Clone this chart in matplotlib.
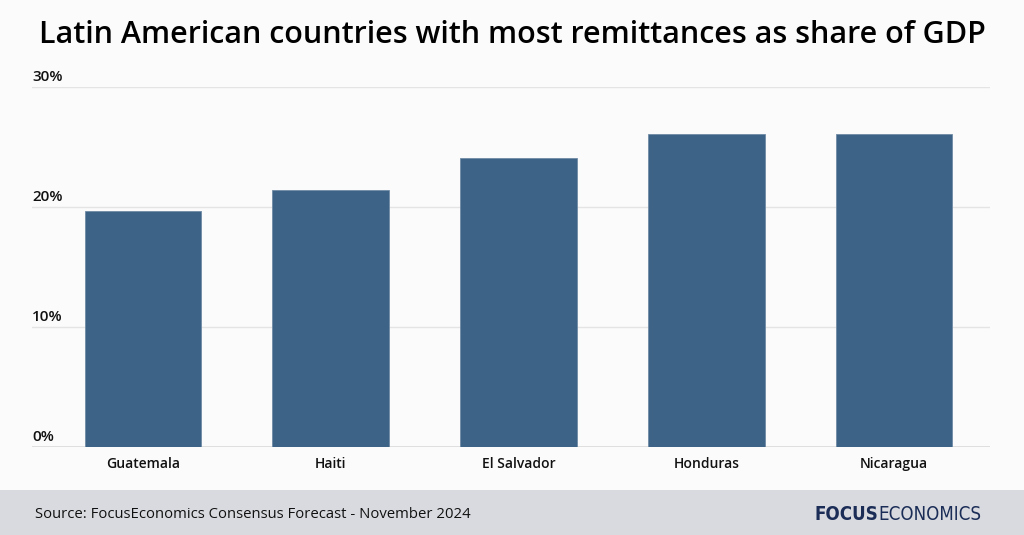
import matplotlib.pyplot as plt
import matplotlib.transforms as mtransforms
from matplotlib.patches import Rectangle

# データ
countries = ['Guatemala', 'Haiti', 'El Salvador', 'Honduras', 'Nicaragua']
remit_share = [19.7, 21.4, 24.1, 26.1, 26.1]
y_ticks = [0, 10, 20, 30]
y_labels = ['0%', '10%', '20%', '30%']

title = 'Latin American countries with most remittances as share of GDP'
source = 'Source: FocusEconomics Consensus Forecast - November 2024'

bar_color = '#3d6387'
bg = '#fbfbfb'
W, H = 1024, 535

fig = plt.figure(figsize=(W / 100, H / 100), dpi=100, facecolor=bg)

# プロット領域
ax = fig.add_axes([32 / W, (H - 447) / H, (990 - 32) / W, (447 - 87) / H])
ax.set_facecolor(bg)
x = range(len(countries))
ax.bar(x, remit_share, width=0.62, color=bar_color, edgecolor='#6f8ba6',
       linewidth=0.6, zorder=3)
ax.set_xlim(-0.59, 4.51)
ax.set_ylim(0, 30)

for t in y_ticks:
    ax.axhline(t, color='#e4e4e4' if t else '#dcdcdc', lw=1.0 if t else 2.0, zorder=1)

for s in ax.spines.values():
    s.set_visible(False)
ax.set_yticks([])
ax.set_xticks(list(x))
ax.set_xticklabels(countries, fontfamily='Open Sans', fontweight='semibold',
                   fontsize=10, color='#111111')
ax.tick_params(axis='x', length=0, pad=7)

trans = mtransforms.blended_transform_factory(ax.transAxes, ax.transData)
off = mtransforms.offset_copy(trans, fig=fig, x=0, y=3, units='dots')
for t, lab in zip(y_ticks, y_labels):
    ax.text(0, t, lab, transform=off, ha='left', va='bottom',
            fontfamily='Open Sans', fontweight='semibold', fontsize=11,
            color='#111111')

# タイトル
fig.text(0.5, (H - 35) / H, title, ha='center', va='center',
         fontfamily='Open Sans', fontweight='semibold', fontsize=22,
         color='#000000')

# フッター
fig.add_artist(Rectangle((0, 0), 1, 45 / H, transform=fig.transFigure,
                         facecolor='#d9dadf', edgecolor='none'))
fig.text(35 / W, 21 / H, source, ha='left', va='center',
         fontfamily='Open Sans', fontsize=10.7, color='#111111')

# ロゴ
t1 = fig.text(815 / W, 20 / H, 'FOCUS', ha='left', va='center',
              fontfamily='DejaVu Sans', fontstretch='condensed',
              fontweight='bold', fontsize=14, color='#1b2d57')
fig.canvas.draw()
bb = t1.get_window_extent()
t2 = fig.text(bb.x1 / W, 20 / H, 'ECONOMICS', ha='left', va='center',
              fontfamily='DejaVu Sans', fontstretch='condensed',
              fontweight='light', fontsize=14, color='#1b2d57')
fig.canvas.draw()
total = t2.get_window_extent().x1 - bb.x0
scale = (982 - 815) / total
for t in (t1, t2):
    t.set_fontsize(14 * scale)
fig.canvas.draw()
t2.set_x(t1.get_window_extent().x1 / W)

plt.savefig('out.png', dpi=100, facecolor=bg)
